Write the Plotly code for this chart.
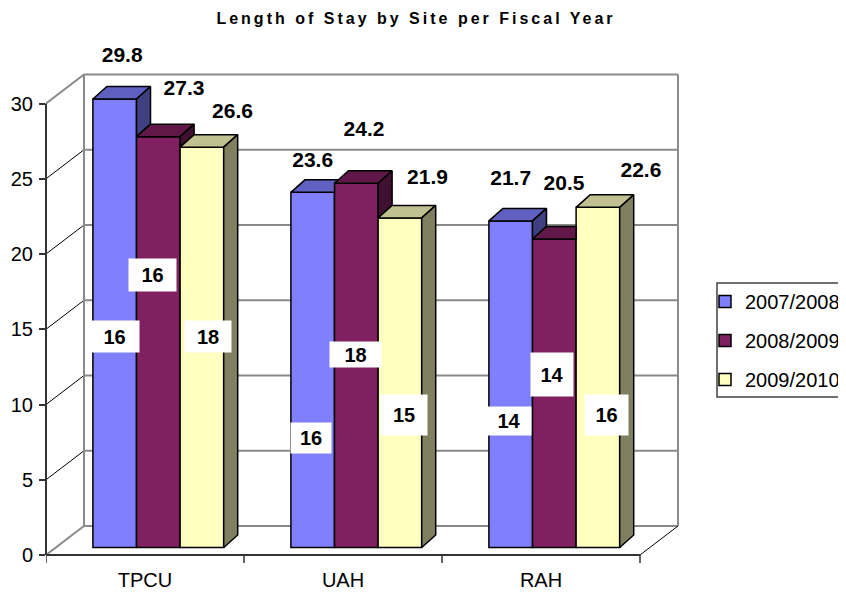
import plotly.graph_objects as go

# ---------------- data ----------------
CATEGORIES = ["TPCU", "UAH", "RAH"]
SERIES = ["2007/2008", "2008/2009", "2009/2010"]
LOS_0708 = [29.8, 23.6, 21.7]
LOS_0809 = [27.3, 24.2, 20.5]
LOS_0910 = [26.6, 21.9, 22.6]
INNER_0708 = [16, 16, 14]
INNER_0809 = [16, 18, 14]
INNER_0910 = [18, 15, 16]
Y_TICKS = [0, 5, 10, 15, 20, 25, 30]

VALUES = [LOS_0708, LOS_0809, LOS_0910]
INNERS = [INNER_0708, INNER_0809, INNER_0910]

# ---------------- styles / layout ----------------
FRONT = ["#8080FF", "#802060", "#FFFFC0"]
TOP = ["#6060C0", "#601848", "#C0C090"]
SIDE = ["#404080", "#401030", "#808060"]
FONT = "Arial, Liberation Sans, sans-serif"

BODY = 8                                # default page margin of the html body
WIN_W, WIN_H = 846, 592
W, H = WIN_W - BODY, WIN_H - BODY       # figure size so the page fits the window
PL, PR, PT, PB = 46, 705, 38, 555       # plot area in window px
PX_CAT = 198.0                          # px per category
PX_UNIT = 15.05                         # px per y unit
X_RANGE = [-0.5, -0.5 + (PR - PL) / PX_CAT]
Y_RANGE = [0, (PB - PT) / PX_UNIT]

WALL_DX, WALL_DY = 38 / PX_CAT, 29 / PX_UNIT     # depth of the back wall
BAR_DX, BAR_BASE = 13.3 / PX_CAT, 7.5 / PX_UNIT  # bar plane offset
BAR_W = 43.6 / PX_CAT
SDX, SDY = 14 / PX_CAT, 12.5 / PX_UNIT           # bar depth
SLOPE = SDY / SDX

# label placement (px offsets from bar front-top centre)
LABEL_DX_PX = [[7.5, 0, 0], [25.7, 7.7, 9.7], [30.6, 27.6, 43]]
LABEL_UP_PX = [[42, 30.8, 41.4], [46.6, 52.8, 54.5], [34.2, 39.4, 35.9]]
# inner white boxes: px x offset, y level (axis units), box size
INNER_DX_PX = [[-0.2, -1.7, -1.7], [-5.8, -0.8, -2.3], [6, 4, 8.6]]
INNER_Y = [[14.5, 7.8, 8.9], [18.6, 13.3, 12.0], [14.5, 9.3, 9.3]]
INNER_BW = [[49, 40, 44], [47, 51, 42], [46, 46, 43]]
INNER_BH = [[31, 30, 28], [32, 25, 43], [31, 40, 40]]

fig = go.Figure()

def centre(i, j):
    return i + BAR_DX + (j - 1) * BAR_W

# front faces as real bars
for j, name in enumerate(SERIES):
    fig.add_trace(go.Bar(
        x=[centre(i, j) for i in range(len(CATEGORIES))],
        y=VALUES[j], base=BAR_BASE, width=BAR_W, name=name,
        marker=dict(color=FRONT[j], line=dict(color="black", width=1.5)),
        legendgroup=name, hoverinfo="skip"))

# top and side faces
for j in range(len(SERIES)):
    tx, ty, sx, sy = [], [], [], []
    for i in range(len(CATEGORIES)):
        c = centre(i, j)
        l, r = c - BAR_W / 2, c + BAR_W / 2
        v = VALUES[j][i] + BAR_BASE
        vn = VALUES[j + 1][i] + BAR_BASE if j + 1 < len(SERIES) else None
        if vn is None or vn <= v:
            pts = [(l, v), (r, v), (r + SDX, v + SDY), (l + SDX, v + SDY)]
        elif vn >= v + SDY:
            pts = [(l, v), (r, v), (r, v + SDY), (l + SDX, v + SDY)]
        else:
            t = (v + SDY - vn) / SLOPE
            pts = [(l, v), (r, v), (r, vn), (r + t, v + SDY), (l + SDX, v + SDY)]
        pts.append(pts[0])
        tx += [p[0] for p in pts] + [None]
        ty += [p[1] for p in pts] + [None]
        lo = BAR_BASE if vn is None else vn
        if lo < v:
            spts = [(r, lo), (r + SDX, lo + SDY), (r + SDX, v + SDY), (r, v), (r, lo)]
            sx += [p[0] for p in spts] + [None]
            sy += [p[1] for p in spts] + [None]
    fig.add_trace(go.Scatter(x=tx, y=ty, mode="lines", fill="toself",
                             fillcolor=TOP[j], line=dict(color="black", width=1.5),
                             showlegend=False, hoverinfo="skip"))
    if sx:
        fig.add_trace(go.Scatter(x=sx, y=sy, mode="lines", fill="toself",
                                 fillcolor=SIDE[j], line=dict(color="black", width=1.5),
                                 showlegend=False, hoverinfo="skip"))

# value labels
for j in range(len(SERIES)):
    fig.add_trace(go.Scatter(
        x=[centre(i, j) + LABEL_DX_PX[j][i] / PX_CAT for i in range(len(CATEGORIES))],
        y=[VALUES[j][i] + BAR_BASE + LABEL_UP_PX[j][i] / PX_UNIT for i in range(len(CATEGORIES))],
        text=[f"{v:.1f}" for v in VALUES[j]], mode="text", textposition="middle center",
        textfont=dict(family=FONT, size=21, color="black", weight="bold"),
        cliponaxis=False, showlegend=False, hoverinfo="skip"))

annotations = []
for j in range(len(SERIES)):
    for i in range(len(CATEGORIES)):
        annotations.append(dict(
            x=centre(i, j) + INNER_DX_PX[j][i] / PX_CAT, y=INNER_Y[j][i],
            xref="x", yref="y", text=str(INNERS[j][i]), showarrow=False,
            font=dict(family=FONT, size=20, color="black", weight="bold"),
            bgcolor="white", width=INNER_BW[j][i], height=INNER_BH[j][i],
            borderpad=0, xanchor="center", yanchor="middle"))

# walls, grid and axes decorations
GRAY = "#8a8a8a"
DARK = "#333333"
shapes = []
xl, xr = -0.5, len(CATEGORIES) - 0.5
for v in Y_TICKS:
    edge = v in (Y_TICKS[0], Y_TICKS[-1])
    shapes.append(dict(type="line", xref="x", yref="y", layer="below",
                       x0=xl + WALL_DX, x1=xr + WALL_DX, y0=v + WALL_DY, y1=v + WALL_DY,
                       line=dict(color=GRAY, width=2)))
    shapes.append(dict(type="line", xref="x", yref="y", layer="below",
                       x0=xl, x1=xl + WALL_DX, y0=v, y1=v + WALL_DY,
                       line=dict(color=GRAY if edge else "black", width=2 if edge else 1)))
for xx in (xl + WALL_DX, xr + WALL_DX):
    shapes.append(dict(type="line", xref="x", yref="y", layer="below",
                       x0=xx, x1=xx, y0=Y_TICKS[0] + WALL_DY, y1=Y_TICKS[-1] + WALL_DY,
                       line=dict(color=GRAY, width=2)))
shapes.append(dict(type="line", xref="x", yref="y", layer="below",
                   x0=xr, x1=xr + WALL_DX, y0=0, y1=WALL_DY,
                   line=dict(color="black", width=1)))
# front y axis line
shapes.append(dict(type="line", xref="x domain", yref="y", layer="above",
                   x0=0, x1=0, y0=Y_TICKS[0], y1=Y_TICKS[-1],
                   line=dict(color=DARK, width=2)))
# front x axis line and category boundary ticks
shapes.append(dict(type="line", xref="x", yref="y domain", layer="above",
                   x0=xl, x1=xr, y0=0, y1=0, line=dict(color=DARK, width=2)))
for k in range(len(CATEGORIES) + 1):
    shapes.append(dict(type="line", xref="x", yref="y domain", layer="above",
                       x0=xl + k, x1=xl + k, y0=0, y1=-8 / (PB - PT),
                       line=dict(color=DARK, width=1.5)))
# legend frame
shapes.append(dict(type="rect", xref="paper", yref="paper", layer="above",
                   x0=(717 - PL) / (PR - PL), x1=1.4,
                   y0=(PB - 397) / (PB - PT), y1=(PB - 283) / (PB - PT),
                   line=dict(color="#404040", width=1.5), fillcolor="rgba(0,0,0,0)"))

fig.update_layout(
    width=W, height=H,
    margin=dict(l=PL - BODY, r=W - (PR - BODY), t=PT - BODY, b=H - (PB - BODY), autoexpand=False),
    paper_bgcolor="white", plot_bgcolor="white",
    barmode="overlay", showlegend=True,
    title=dict(text='<b><span style="letter-spacing:3px">Length of Stay by Site per Fiscal Year</span></b>',
               x=(416 - BODY) / W, xref="container", xanchor="center",
               y=1 - (18 - BODY) / H, yref="container", yanchor="middle",
               font=dict(family=FONT, size=16, color="black")),
    xaxis=dict(range=X_RANGE, tickvals=list(range(len(CATEGORIES))), ticktext=CATEGORIES,
               ticks="", showgrid=False, zeroline=False, showline=False,
               tickfont=dict(family=FONT, size=20, color="black"), ticklabelstandoff=11),
    yaxis=dict(range=Y_RANGE, tickvals=Y_TICKS, ticks="outside", ticklen=6, tickwidth=1.5,
               tickcolor=DARK, showgrid=False, zeroline=False, showline=False,
               tickfont=dict(family=FONT, size=20, color="black"), ticklabelstandoff=2),
    legend=dict(x=1.0, xanchor="left", y=(PB - 282) / (PB - PT), yanchor="top",
                bgcolor="rgba(0,0,0,0)", borderwidth=0, traceorder="grouped",
                tracegroupgap=10, font=dict(family=FONT, size=20, color="black")),
    shapes=shapes, annotations=annotations,
)

fig.write_html("out.html")
